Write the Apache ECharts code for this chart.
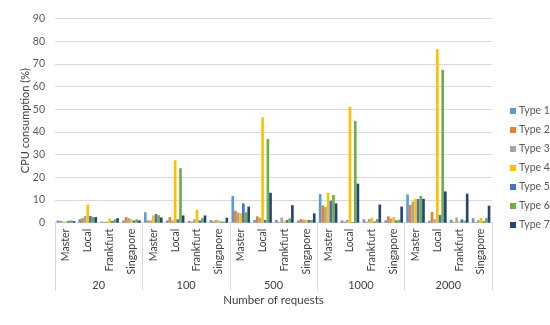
<!DOCTYPE html>
<html>
<head>
<meta charset="utf-8">
<script src="https://cdn.jsdelivr.net/npm/echarts@6/dist/echarts.min.js"></script>
<style>html,body{margin:0;padding:0;background:#fff}#c{width:550px;height:325px}</style>
</head>
<body>
<div id="c"></div>
<script>
var groups = ['20', '100', '500', '1000', '2000'];
var sites = ['Master', 'Local', 'Frankfurt', 'Singapore'];
var typeNames = ['Type 1', 'Type 2', 'Type 3', 'Type 4', 'Type 5', 'Type 6', 'Type 7'];
var yTicks = [0, 10, 20, 30, 40, 50, 60, 70, 80, 90];

var type1 = [1.0, 1.5, 0.5, 1.0, 4.6, 1.0, 0.8, 1.2, 11.8, 1.2, 1.2, 1.0, 12.6, 1.0, 1.5, 1.0, 12.5, 0.9, 1.3, 2.0];
var type2 = [0.8, 2.0, 0.3, 2.5, 1.0, 2.5, 0.5, 0.6, 5.3, 2.8, 0.3, 1.6, 7.6, 0.5, 0.4, 2.8, 7.8, 4.7, 0.3, 0.3];
var type3 = [0.5, 3.0, 0.5, 2.0, 1.0, 1.0, 1.5, 1.2, 4.5, 2.2, 2.3, 1.3, 6.9, 1.2, 1.6, 1.9, 9.3, 1.5, 2.3, 1.2];
var type4 = [0.5, 7.9, 1.8, 1.5, 3.2, 27.5, 5.7, 1.0, 4.2, 46.4, 0.7, 1.3, 13.2, 51.1, 2.2, 2.5, 10.6, 76.5, 0.6, 2.1];
var type5 = [0.8, 3.0, 0.8, 1.0, 3.8, 1.5, 1.0, 0.5, 8.5, 1.2, 1.2, 1.2, 9.7, 0.3, 0.5, 1.0, 10.4, 3.4, 1.5, 0.6];
var type6 = [1.0, 2.5, 1.5, 1.5, 3.3, 24.0, 2.0, 0.5, 4.6, 36.9, 1.9, 1.2, 12.2, 44.9, 1.6, 1.3, 11.8, 67.4, 0.9, 2.0];
var type7 = [0.7, 2.5, 2.0, 1.0, 2.3, 3.2, 3.2, 2.2, 7.1, 13.2, 7.7, 4.1, 8.5, 17.2, 8.0, 7.1, 10.5, 13.8, 12.8, 7.5];

var colors = ['#5B9BD5', '#ED7D31', '#A5A5A5', '#FFC000', '#4472C4', '#70AD47', '#264478'];
var allTypes = [type1, type2, type3, type4, type5, type6, type7];

var cats = [];
groups.forEach(function (g) { sites.forEach(function (s) { cats.push(s); }); });

var FONT = 'Lato';
var series = typeNames.map(function (n, i) {
  return {
    name: n, type: 'bar', xAxisIndex: 0, data: allTypes[i],
    barGap: '0%', barCategoryGap: '15%',
    itemStyle: { color: colors[i] }
  };
});

var chart = echarts.init(document.getElementById('c'), null, { renderer: 'canvas' });
chart.setOption({
  animation: false,
  textStyle: { fontFamily: FONT },
  grid: { left: 55, right: 58, top: 18.5, bottom: 102.3 },
  legend: {
    orient: 'vertical', left: 505, top: 100,
    itemWidth: 6, itemHeight: 6, itemGap: 7,
    icon: 'rect',
    textStyle: { fontFamily: FONT, fontSize: 10.5, color: '#595959', lineHeight: 12, padding: [0, 0, 0, -2] },
    data: typeNames
  },
  xAxis: [
    {
      type: 'category', data: cats, position: 'bottom',
      axisLine: { lineStyle: { color: '#D9D9D9' } },
      axisTick: { show: false },
      axisLabel: { rotate: 90, interval: 0, fontFamily: FONT, fontSize: 10.5, color: '#404040', margin: 6 }
    },
    {
      type: 'category', data: groups, position: 'bottom',
      axisLine: { show: false },
      axisTick: { show: true, length: 68, lineStyle: { color: '#D9D9D9' } },
      axisLabel: { fontFamily: FONT, fontSize: 11, color: '#404040', margin: 57 },
      name: 'Number of requests', nameLocation: 'middle', nameGap: 72, nameMoveOverlap: false,
      nameTextStyle: { fontFamily: FONT, fontSize: 11.5, color: '#404040' }
    }
  ],
  yAxis: {
    type: 'value', min: yTicks[0], max: yTicks[yTicks.length - 1], interval: 10,
    axisLine: { show: false }, axisTick: { show: false },
    splitLine: { lineStyle: { color: '#D9D9D9' } },
    axisLabel: { fontFamily: FONT, fontSize: 10.5, color: '#595959', margin: 10 },
    name: 'CPU consumption (%)', nameLocation: 'middle', nameGap: 24, nameMoveOverlap: false,
    nameTextStyle: { fontFamily: FONT, fontSize: 11, color: '#404040' }
  },
  series: series
});
</script>
</body>
</html>
